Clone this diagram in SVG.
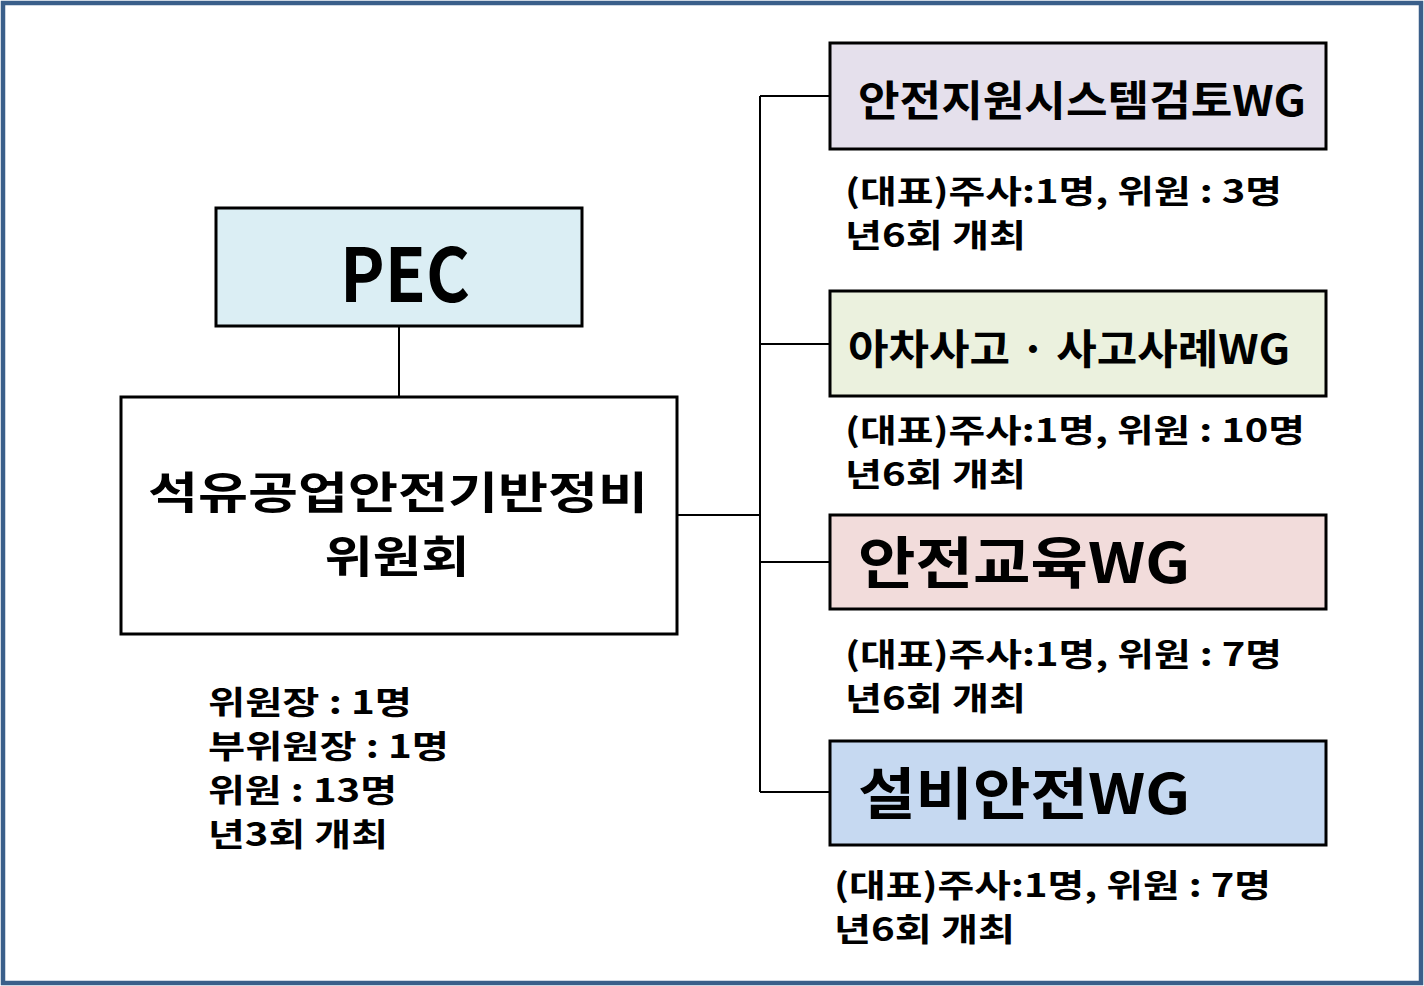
<svg xmlns="http://www.w3.org/2000/svg" width="1424" height="986" viewBox="0 0 1424 986">
<style>
.box{stroke:#000;stroke-width:3}
.t{font-family:"Malgun Gothic","Noto Sans CJK KR","Noto Sans",sans-serif;font-weight:bold;fill:#000}
.s{font-size:32px}
.c{stroke:#000;stroke-width:2;fill:none}
</style>
<rect x="0" y="0" width="1424" height="986" fill="#fff"/>
<rect x="3" y="3" width="1418" height="980" fill="none" stroke="#3a5f8a" stroke-width="4.5"/>
<g id="connectors">
<path class="c" d="M399 327V396M678 515H760M760 96V792M760 96H829M760 344H829M760 562H829M760 792H829"/>
</g>
<g id="pec">
<rect class="box" x="216" y="208" width="366" height="118" fill="#dbeef4"/>
<text class="t" x="405" y="302" font-size="74" text-anchor="middle" textLength="130" lengthAdjust="spacingAndGlyphs">PEC</text>
</g>
<g id="committee">
<rect class="box" x="121" y="397" width="556" height="237" fill="#fff"/>
<text class="t" font-size="44" text-anchor="middle"><tspan x="398" y="509" textLength="500" lengthAdjust="spacingAndGlyphs">석유공업안전기반정비</tspan><tspan x="397" y="573" textLength="145" lengthAdjust="spacingAndGlyphs">위원회</tspan></text>
<text class="t s"><tspan x="208" y="714" textLength="204" lengthAdjust="spacingAndGlyphs">위원장 : 1명</tspan><tspan x="208" y="758" textLength="241" lengthAdjust="spacingAndGlyphs">부위원장 : 1명</tspan><tspan x="208" y="802" textLength="189" lengthAdjust="spacingAndGlyphs">위원 : 13명</tspan><tspan x="208" y="846" textLength="180" lengthAdjust="spacingAndGlyphs">년3회 개최</tspan></text>
</g>
<g id="wg1">
<rect class="box" x="830" y="43" width="496" height="106" fill="#e5e0ec"/>
<text class="t" x="858" y="116" font-size="42" textLength="448" lengthAdjust="spacingAndGlyphs">안전지원시스템검토WG</text>
<text class="t s"><tspan x="845" y="203" textLength="437" lengthAdjust="spacingAndGlyphs">(대표)주사:1명, 위원 : 3명</tspan><tspan x="845" y="247" textLength="181" lengthAdjust="spacingAndGlyphs">년6회 개최</tspan></text>
</g>
<g id="wg2">
<rect class="box" x="830" y="291" width="496" height="105" fill="#ebf1de"/>
<text class="t" x="848" y="364" font-size="41" textLength="442" lengthAdjust="spacingAndGlyphs">아차사고 · 사고사례WG</text>
<text class="t s"><tspan x="845" y="442" textLength="460" lengthAdjust="spacingAndGlyphs">(대표)주사:1명, 위원 : 10명</tspan><tspan x="845" y="486" textLength="181" lengthAdjust="spacingAndGlyphs">년6회 개최</tspan></text>
</g>
<g id="wg3">
<rect class="box" x="830" y="515" width="496" height="94" fill="#f2dcdb"/>
<text class="t" x="858" y="583" font-size="56" textLength="332" lengthAdjust="spacingAndGlyphs">안전교육WG</text>
<text class="t s"><tspan x="845" y="666" textLength="437" lengthAdjust="spacingAndGlyphs">(대표)주사:1명, 위원 : 7명</tspan><tspan x="845" y="710" textLength="181" lengthAdjust="spacingAndGlyphs">년6회 개최</tspan></text>
</g>
<g id="wg4">
<rect class="box" x="830" y="741" width="496" height="104" fill="#c6d9f1"/>
<text class="t" x="858" y="814" font-size="56" textLength="332" lengthAdjust="spacingAndGlyphs">설비안전WG</text>
<text class="t s"><tspan x="834" y="897" textLength="437" lengthAdjust="spacingAndGlyphs">(대표)주사:1명, 위원 : 7명</tspan><tspan x="834" y="941" textLength="181" lengthAdjust="spacingAndGlyphs">년6회 개최</tspan></text>
</g>
</svg>
